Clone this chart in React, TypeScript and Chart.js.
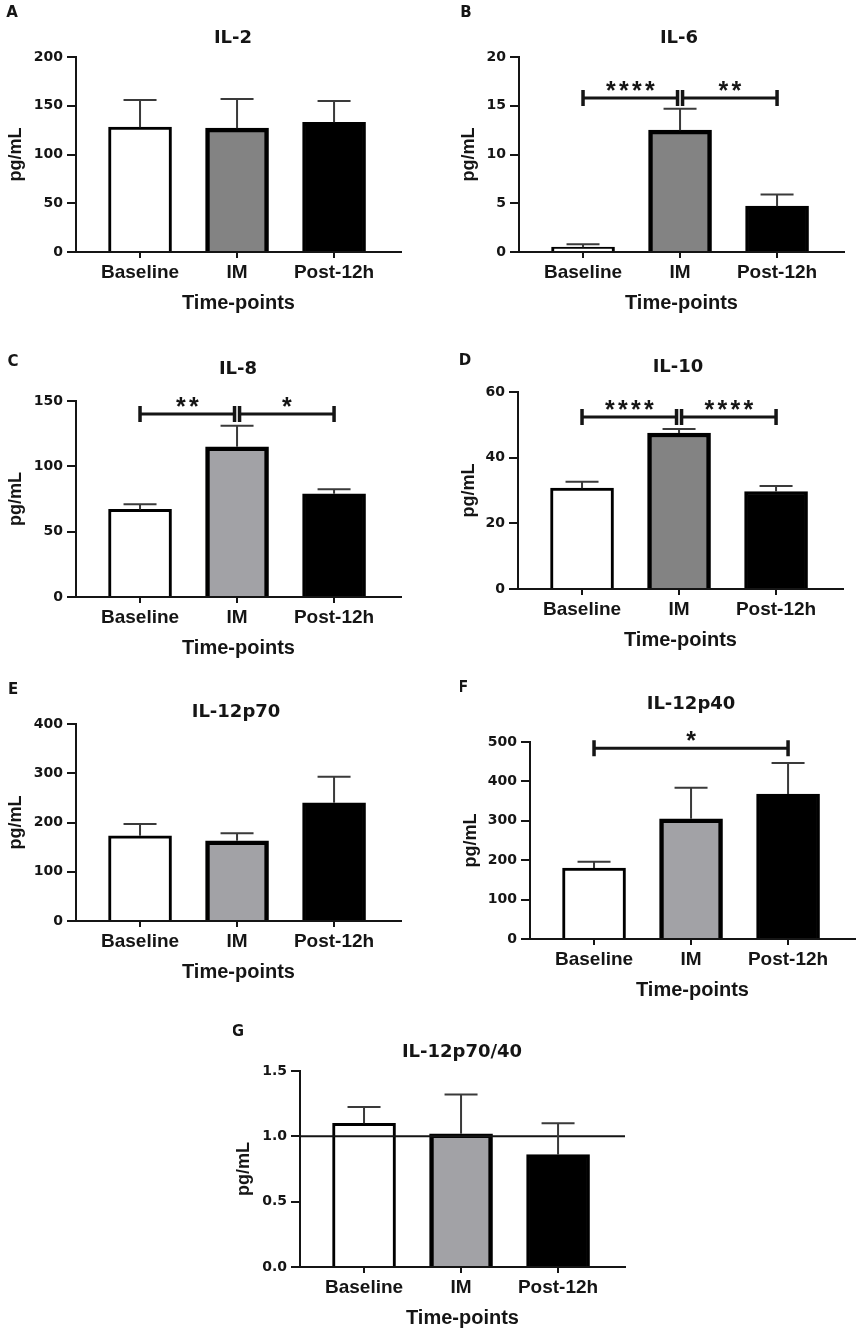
import React, { useEffect, useRef } from 'react'
import { Chart, registerables } from 'chart.js'

Chart.register(...registerables)

const categories = ['Baseline', 'IM', 'Post-12h']

// bar heights and upper SEM
const il2Mean = [128, 127, 133]
const il2Sem = [28, 30, 22]
const il6Mean = [0.5, 12.5, 4.7]
const il6Sem = [0.3, 2.2, 1.2]
const il8Mean = [67, 115, 79]
const il8Sem = [4, 16, 3.5]
const il10Mean = [30.7, 47.5, 29.7]
const il10Sem = [2, 1.2, 1.7]
const il12p70Mean = [173, 163, 240]
const il12p70Sem = [24, 15, 53]
const il12p40Mean = [180, 305, 368]
const il12p40Sem = [16, 79, 79]
const ratioMean = [1.1, 1.02, 0.86]
const ratioSem = [0.125, 0.3, 0.24]
const ratioRef = 1.0

// y axis ticks
const il2Ticks = [0, 50, 100, 150, 200]
const il6Ticks = [0, 5, 10, 15, 20]
const il8Ticks = [0, 50, 100, 150]
const il10Ticks = [0, 20, 40, 60]
const il12p70Ticks = [0, 100, 200, 300, 400]
const il12p40Ticks = [0, 100, 200, 300, 400, 500]
const ratioTicks = [0, 0.5, 1, 1.5]

// significance brackets (category index from/to, height in data units)
const il6Sig = [
  { from: 0, to: 1, y: 15.8, stars: '****' },
  { from: 1, to: 2, y: 15.8, stars: '**' }
]
const il8Sig = [
  { from: 0, to: 1, y: 140, stars: '**' },
  { from: 1, to: 2, y: 140, stars: '*' }
]
const il10Sig = [
  { from: 0, to: 1, y: 52.4, stars: '****' },
  { from: 1, to: 2, y: 52.4, stars: '****' }
]
const il12p40Sig = [{ from: 0, to: 2, y: 484, stars: '*' }]

const DARK_GREY = '#838383'
const LIGHT_GREY = '#a2a2a6'
const INK = '#151515'
const ARIAL = "'Liberation Sans', Arial, sans-serif"
const DEJAVU = "'DejaVu Sans', sans-serif"

const PLOT_W = 325
const X_AXIS_H = 63

// page positions of each panel
const panels = [
  { letter: 'A', title: 'IL-2', mean: il2Mean, sem: il2Sem, ticks: il2Ticks, sig: [], im: DARK_GREY,
    left: 76, top: 57, bottom: 252, yTitleX: 16, titleX: 233, titleY: 38, letterX: 12, letterY: 13 },
  { letter: 'B', title: 'IL-6', mean: il6Mean, sem: il6Sem, ticks: il6Ticks, sig: il6Sig, im: DARK_GREY,
    left: 519, top: 57, bottom: 252, yTitleX: 469, titleX: 679, titleY: 38, letterX: 466, letterY: 13 },
  { letter: 'C', title: 'IL-8', mean: il8Mean, sem: il8Sem, ticks: il8Ticks, sig: il8Sig, im: LIGHT_GREY,
    left: 76, top: 401, bottom: 597, yTitleX: 16, titleX: 238, titleY: 369, letterX: 13, letterY: 362 },
  { letter: 'D', title: 'IL-10', mean: il10Mean, sem: il10Sem, ticks: il10Ticks, sig: il10Sig, im: DARK_GREY,
    left: 518, top: 392, bottom: 589, yTitleX: 469, titleX: 678, titleY: 367, letterX: 465, letterY: 361 },
  { letter: 'E', title: 'IL-12p70', mean: il12p70Mean, sem: il12p70Sem, ticks: il12p70Ticks, sig: [], im: LIGHT_GREY,
    left: 76, top: 724, bottom: 921, yTitleX: 16, titleX: 236, titleY: 712, letterX: 13, letterY: 690 },
  { letter: 'F', title: 'IL-12p40', mean: il12p40Mean, sem: il12p40Sem, ticks: il12p40Ticks, sig: il12p40Sig, im: LIGHT_GREY,
    left: 530, top: 742, bottom: 939, yTitleX: 471, titleX: 691, titleY: 704, letterX: 463, letterY: 688 },
  { letter: 'G', title: 'IL-12p70/40', mean: ratioMean, sem: ratioSem, ticks: ratioTicks, sig: [], im: LIGHT_GREY,
    left: 300, top: 1071, bottom: 1267, yTitleX: 244, titleX: 462, titleY: 1052, letterX: 238, letterY: 1032,
    ref: ratioRef, digits: 1 }
]

const decorPlugin = (p, ox, oy) => ({
  id: 'decor',
  afterDatasetsDraw(chart) {
    const { ctx, chartArea } = chart
    const x = chart.scales.x
    const y = chart.scales.y
    ctx.save()

    if (p.ref != null) {
      const ry = y.getPixelForValue(p.ref)
      ctx.strokeStyle = INK
      ctx.lineWidth = 2
      ctx.beginPath()
      ctx.moveTo(chartArea.left, ry)
      ctx.lineTo(chartArea.right, ry)
      ctx.stroke()
    }

    // upper error bars
    ctx.strokeStyle = '#3a3a3a'
    ctx.lineWidth = 2
    p.mean.forEach((m, i) => {
      const px = x.getPixelForValue(i)
      const top = y.getPixelForValue(m + p.sem[i])
      const base = y.getPixelForValue(m)
      ctx.beginPath()
      ctx.moveTo(px, base)
      ctx.lineTo(px, top)
      ctx.moveTo(px - 16.5, top)
      ctx.lineTo(px + 16.5, top)
      ctx.stroke()
    })

    // significance brackets
    p.sig.forEach((s) => {
      const shared = (idx) => p.sig.some((o) => o !== s && (o.from === idx || o.to === idx))
      const x1 = x.getPixelForValue(s.from) + (shared(s.from) ? 2.5 : 0)
      const x2 = x.getPixelForValue(s.to) - (shared(s.to) ? 2.5 : 0)
      const by = y.getPixelForValue(s.y)
      ctx.strokeStyle = INK
      ctx.lineWidth = 3
      ctx.beginPath()
      ctx.moveTo(x1, by)
      ctx.lineTo(x2, by)
      ctx.stroke()
      ctx.lineWidth = 3.5
      ctx.beginPath()
      ctx.moveTo(x1, by - 8)
      ctx.lineTo(x1, by + 8)
      ctx.moveTo(x2, by - 8)
      ctx.lineTo(x2, by + 8)
      ctx.stroke()

      ctx.fillStyle = INK
      ctx.font = `bold 25px ${ARIAL}`
      ctx.textAlign = 'center'
      ctx.textBaseline = 'alphabetic'
      const m = ctx.measureText('*')
      const shift = (m.actualBoundingBoxAscent - m.actualBoundingBoxDescent) / 2
      const mid = (x1 + x2) / 2
      const n = s.stars.length
      for (let k = 0; k < n; k++) {
        ctx.fillText('*', mid + (k - (n - 1) / 2) * 13, by - 12 + shift)
      }
    })

    ctx.fillStyle = INK
    ctx.textAlign = 'center'
    ctx.textBaseline = 'middle'
    ctx.font = `bold 18px ${DEJAVU}`
    ctx.fillText(p.title, p.titleX - ox, p.titleY - oy)
    ctx.font = `bold 15px ${DEJAVU}`
    ctx.fillText(p.letter, p.letterX - ox, p.letterY - oy)
    ctx.restore()
  }
})

const Panel = ({ p }) => {
  const canvasRef = useRef(null)
  const chartRef = useRef(null)

  const ox = p.yTitleX - 11
  const oy = p.letterY - 13
  const width = p.left + PLOT_W + 4 - ox
  const height = p.bottom + X_AXIS_H + 3 - oy

  useEffect(() => {
    const ctx = canvasRef.current.getContext('2d')
    const yMax = p.ticks[p.ticks.length - 1]

    chartRef.current = new Chart(ctx, {
      type: 'bar',
      data: {
        datasets: [
          {
            data: categories.map((c, i) => ({ x: i, y: p.mean[i] })),
            backgroundColor: ['#ffffff', p.im, '#000000'],
            borderColor: '#000000',
            borderWidth: [3, 4.5, 3],
            barThickness: 63
          }
        ]
      },
      options: {
        animation: false,
        responsive: false,
        events: [],
        layout: { padding: { left: 0, top: p.top - oy, right: 4, bottom: 3 } },
        plugins: { legend: { display: false }, tooltip: { enabled: false } },
        scales: {
          x: {
            type: 'linear',
            min: -0.66,
            max: 2.69,
            offset: false,
            afterBuildTicks: (s) => { s.ticks = categories.map((c, i) => ({ value: i })) },
            afterFit: (s) => { s.height = X_AXIS_H },
            ticks: {
              autoSkip: false,
              maxRotation: 0,
              padding: 3,
              color: INK,
              font: { family: ARIAL, size: 19, weight: 'bold', lineHeight: 1.2 },
              callback: (v) => categories[v]
            },
            grid: { offset: false, drawOnChartArea: false, drawTicks: true, tickLength: 6, color: INK, lineWidth: 2 },
            border: { color: INK, width: 2 },
            title: {
              display: true,
              text: 'Time-points',
              color: INK,
              padding: 0,
              font: { family: ARIAL, size: 20, weight: 'bold', lineHeight: 1.2 }
            }
          },
          y: {
            min: 0,
            max: yMax,
            afterBuildTicks: (s) => { s.ticks = p.ticks.map((v) => ({ value: v })) },
            afterFit: (s) => { s.width = p.left - ox },
            ticks: {
              padding: 4,
              color: INK,
              font: { family: DEJAVU, size: 14, weight: 'bold' },
              callback: (v) => (p.digits ? Number(v).toFixed(p.digits) : v)
            },
            grid: { drawOnChartArea: false, drawTicks: true, tickLength: 9, color: INK, lineWidth: 2 },
            border: { color: INK, width: 2 },
            title: {
              display: true,
              text: 'pg/mL',
              color: INK,
              padding: 0,
              font: { family: ARIAL, size: 18, weight: 'bold', lineHeight: 1.2 }
            }
          }
        }
      },
      plugins: [decorPlugin(p, ox, oy)]
    })

    return () => {
      chartRef.current.destroy()
    }
  }, [])

  return (
    <canvas
      ref={canvasRef}
      width={width}
      height={height}
      style={{ position: 'absolute', left: ox, top: oy, width, height }}
    />
  )
}

const App = () => {
  return (
    <div style={{ position: 'absolute', left: 0, top: 0, width: 859, height: 1339, background: '#fff', overflow: 'hidden' }}>
      {panels.map((p) => (
        <Panel key={p.letter} p={p} />
      ))}
    </div>
  )
}

export default App
